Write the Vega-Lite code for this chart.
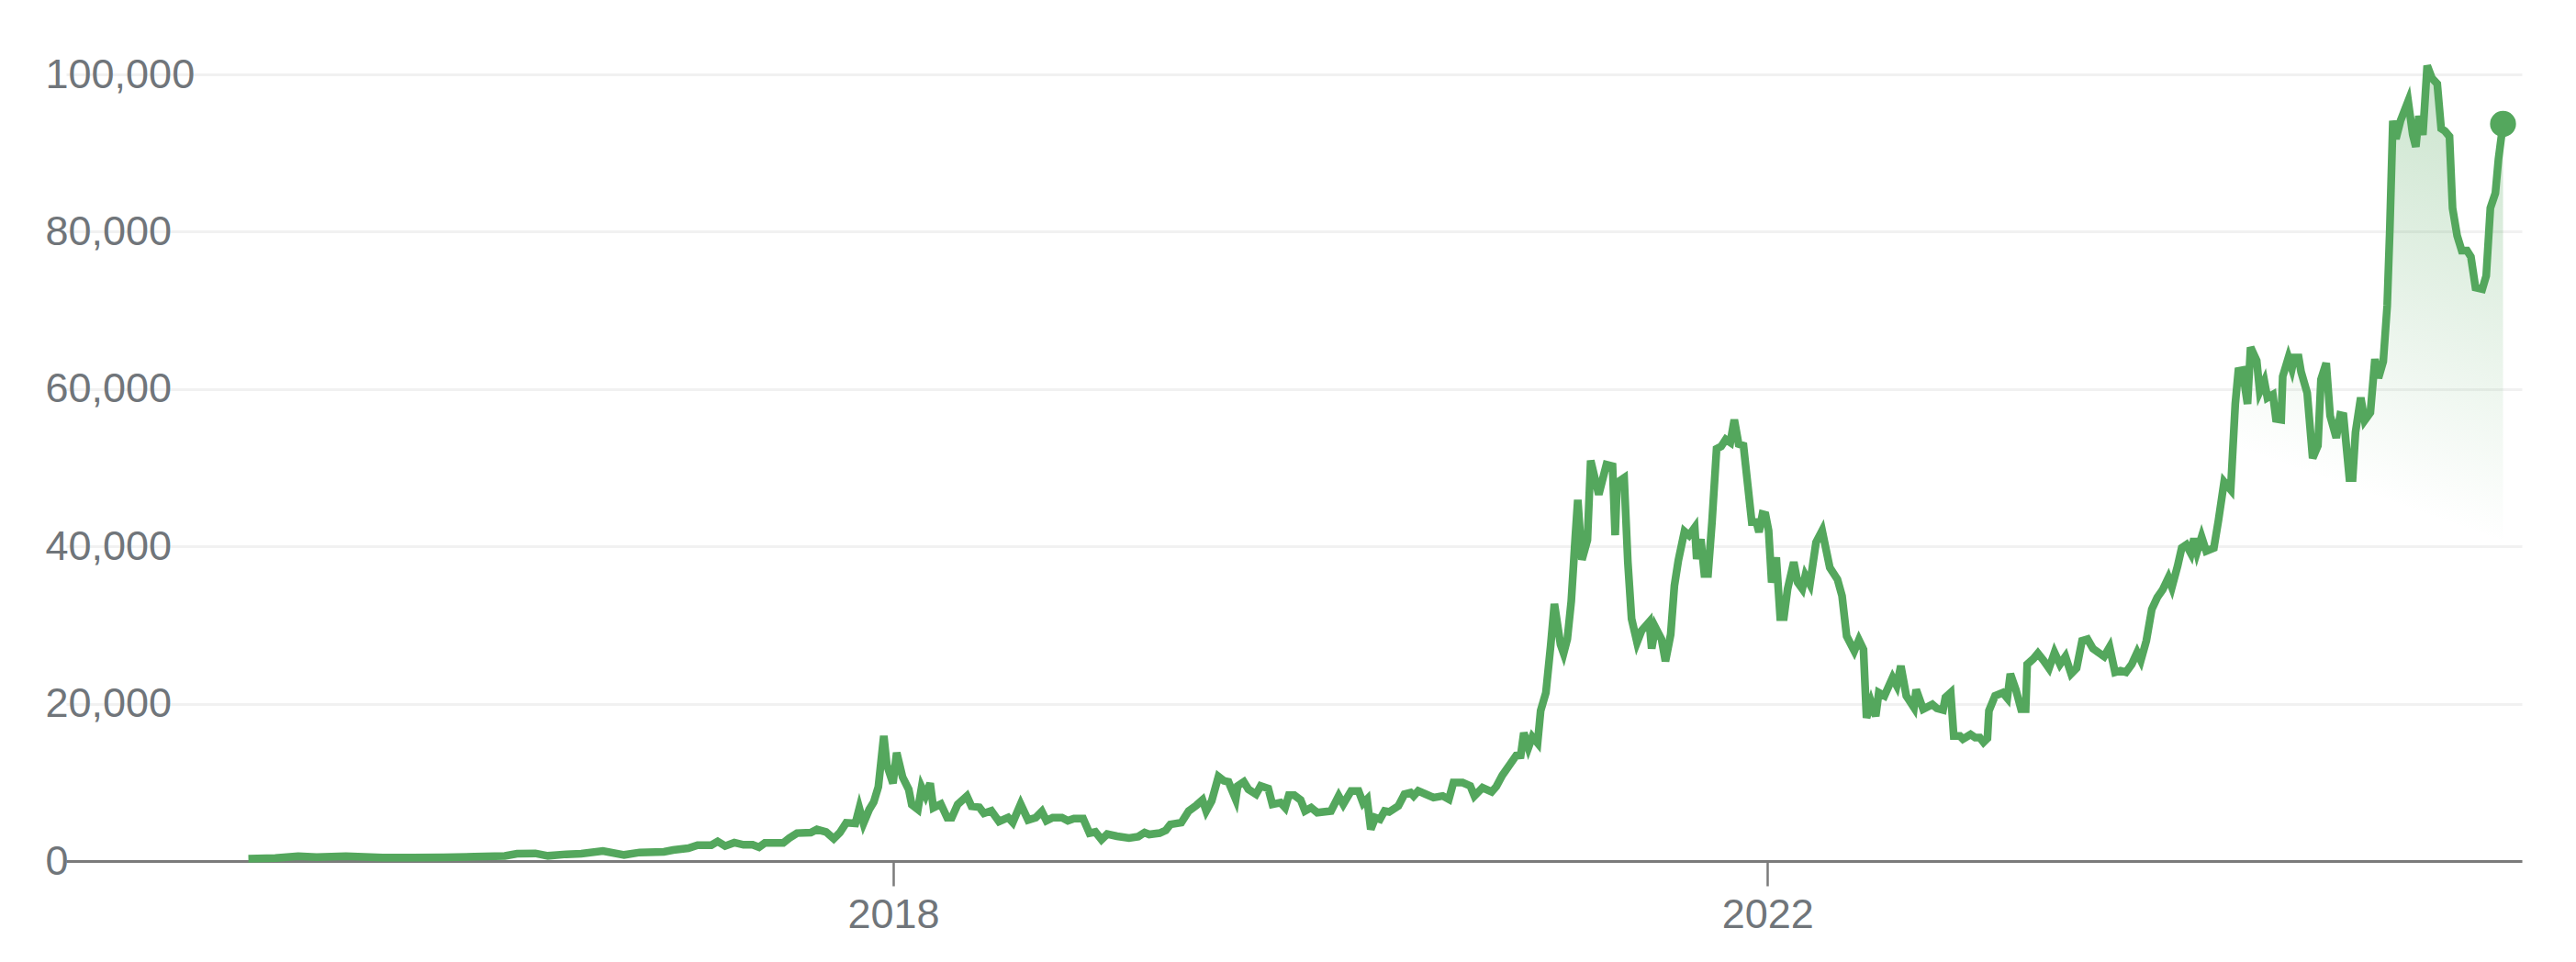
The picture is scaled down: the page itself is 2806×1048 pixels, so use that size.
{
  "$schema": "https://vega.github.io/schema/vega-lite/v6.json",
  "width": 2675,
  "height": 857,
  "autosize": {"type": "none"},
  "padding": {"left": 72, "top": 81, "right": 59, "bottom": 110},
  "background": "white",
  "config": {
    "font": "Arial, Liberation Sans, sans-serif",
    "view": {"stroke": null}
  },
  "data": {
    "values": [
      {"year": 2015.050, "price": 300}, {"year": 2015.173, "price": 380}, {"year": 2015.278, "price": 600},
      {"year": 2015.362, "price": 500}, {"year": 2015.496, "price": 600}, {"year": 2015.664, "price": 450},
      {"year": 2015.803, "price": 450}, {"year": 2015.943, "price": 480}, {"year": 2016.084, "price": 540},
      {"year": 2016.223, "price": 650}, {"year": 2016.279, "price": 930}, {"year": 2016.363, "price": 970},
      {"year": 2016.420, "price": 660}, {"year": 2016.504, "price": 860}, {"year": 2016.573, "price": 930},
      {"year": 2016.672, "price": 1280}, {"year": 2016.769, "price": 780}, {"year": 2016.840, "price": 1090},
      {"year": 2016.951, "price": 1170}, {"year": 2016.993, "price": 1400}, {"year": 2017.063, "price": 1630},
      {"year": 2017.105, "price": 2020}, {"year": 2017.168, "price": 2020}, {"year": 2017.197, "price": 2490},
      {"year": 2017.231, "price": 1910}, {"year": 2017.273, "price": 2340}, {"year": 2017.315, "price": 2060},
      {"year": 2017.357, "price": 2060}, {"year": 2017.386, "price": 1750}, {"year": 2017.413, "price": 2300},
      {"year": 2017.497, "price": 2300}, {"year": 2017.525, "price": 2920}, {"year": 2017.560, "price": 3550},
      {"year": 2017.623, "price": 3620}, {"year": 2017.651, "price": 4010}, {"year": 2017.693, "price": 3700},
      {"year": 2017.728, "price": 2840}, {"year": 2017.756, "price": 3620}, {"year": 2017.785, "price": 4860},
      {"year": 2017.827, "price": 4790}, {"year": 2017.845, "price": 6730}, {"year": 2017.864, "price": 4790},
      {"year": 2017.890, "price": 6530}, {"year": 2017.911, "price": 7500}, {"year": 2017.932, "price": 9440},
      {"year": 2017.957, "price": 15900}, {"year": 2017.971, "price": 12200}, {"year": 2017.999, "price": 9880},
      {"year": 2018.016, "price": 13770}, {"year": 2018.043, "price": 10660}, {"year": 2018.071, "price": 9100},
      {"year": 2018.085, "price": 7170}, {"year": 2018.113, "price": 6570}, {"year": 2018.130, "price": 9400},
      {"year": 2018.148, "price": 8320}, {"year": 2018.169, "price": 9880}, {"year": 2018.184, "price": 6770},
      {"year": 2018.218, "price": 7240}, {"year": 2018.247, "price": 5520}, {"year": 2018.268, "price": 5520},
      {"year": 2018.295, "price": 7200}, {"year": 2018.337, "price": 8250}, {"year": 2018.358, "price": 6960},
      {"year": 2018.394, "price": 6840}, {"year": 2018.415, "price": 6070}, {"year": 2018.449, "price": 6380},
      {"year": 2018.484, "price": 5020}, {"year": 2018.526, "price": 5520}, {"year": 2018.547, "price": 4900},
      {"year": 2018.583, "price": 7240}, {"year": 2018.617, "price": 5210}, {"year": 2018.652, "price": 5520},
      {"year": 2018.680, "price": 6300}, {"year": 2018.701, "price": 5130}, {"year": 2018.730, "price": 5520},
      {"year": 2018.772, "price": 5520}, {"year": 2018.799, "price": 5130}, {"year": 2018.827, "price": 5400},
      {"year": 2018.869, "price": 5400}, {"year": 2018.898, "price": 3550}, {"year": 2018.925, "price": 3700},
      {"year": 2018.953, "price": 2720}, {"year": 2018.979, "price": 3420}, {"year": 2019.024, "price": 3150},
      {"year": 2019.079, "price": 2920}, {"year": 2019.121, "price": 3110}, {"year": 2019.150, "price": 3620},
      {"year": 2019.171, "price": 3380}, {"year": 2019.219, "price": 3550}, {"year": 2019.247, "price": 3900},
      {"year": 2019.268, "price": 4660}, {"year": 2019.318, "price": 4880}, {"year": 2019.352, "price": 6360},
      {"year": 2019.387, "price": 7080}, {"year": 2019.415, "price": 7760}, {"year": 2019.432, "price": 6360},
      {"year": 2019.457, "price": 7640}, {"year": 2019.488, "price": 10730}, {"year": 2019.513, "price": 10190},
      {"year": 2019.534, "price": 10060}, {"year": 2019.567, "price": 7850}, {"year": 2019.576, "price": 9550},
      {"year": 2019.604, "price": 10060}, {"year": 2019.625, "price": 9120}, {"year": 2019.660, "price": 8490},
      {"year": 2019.681, "price": 9550}, {"year": 2019.716, "price": 9210}, {"year": 2019.735, "price": 7210},
      {"year": 2019.772, "price": 7420}, {"year": 2019.793, "price": 6790}, {"year": 2019.810, "price": 8360},
      {"year": 2019.835, "price": 8360}, {"year": 2019.864, "price": 7760}, {"year": 2019.884, "price": 6360},
      {"year": 2019.912, "price": 6790}, {"year": 2019.940, "price": 6150}, {"year": 2020.003, "price": 6360},
      {"year": 2020.038, "price": 8270}, {"year": 2020.059, "price": 7210}, {"year": 2020.095, "price": 8910},
      {"year": 2020.129, "price": 8910}, {"year": 2020.150, "price": 7340}, {"year": 2020.168, "price": 7850},
      {"year": 2020.185, "price": 4040}, {"year": 2020.206, "price": 5520}, {"year": 2020.227, "price": 5310},
      {"year": 2020.248, "price": 6360}, {"year": 2020.269, "price": 6240}, {"year": 2020.311, "price": 7000},
      {"year": 2020.339, "price": 8490}, {"year": 2020.367, "price": 8700}, {"year": 2020.381, "price": 8270},
      {"year": 2020.402, "price": 8910}, {"year": 2020.437, "price": 8490}, {"year": 2020.472, "price": 8060},
      {"year": 2020.514, "price": 8270}, {"year": 2020.542, "price": 7850}, {"year": 2020.563, "price": 9970},
      {"year": 2020.605, "price": 9970}, {"year": 2020.640, "price": 9550}, {"year": 2020.659, "price": 8270},
      {"year": 2020.696, "price": 9330}, {"year": 2020.738, "price": 8790}, {"year": 2020.759, "price": 9460},
      {"year": 2020.787, "price": 10900}, {"year": 2020.822, "price": 12300}, {"year": 2020.850, "price": 13400},
      {"year": 2020.871, "price": 13450}, {"year": 2020.885, "price": 16300}, {"year": 2020.906, "price": 14400},
      {"year": 2020.924, "price": 15800}, {"year": 2020.948, "price": 15000}, {"year": 2020.962, "price": 19100},
      {"year": 2020.986, "price": 21400}, {"year": 2021.008, "price": 27400}, {"year": 2021.025, "price": 32700},
      {"year": 2021.053, "price": 27500}, {"year": 2021.067, "price": 26400}, {"year": 2021.084, "price": 28200},
      {"year": 2021.102, "price": 33000}, {"year": 2021.121, "price": 41400}, {"year": 2021.132, "price": 45900},
      {"year": 2021.151, "price": 38300}, {"year": 2021.176, "price": 40800}, {"year": 2021.191, "price": 50900},
      {"year": 2021.228, "price": 46600}, {"year": 2021.263, "price": 50400}, {"year": 2021.291, "price": 50200},
      {"year": 2021.303, "price": 41400}, {"year": 2021.312, "price": 48100}, {"year": 2021.344, "price": 48700},
      {"year": 2021.361, "price": 38000}, {"year": 2021.378, "price": 30800}, {"year": 2021.403, "price": 27800},
      {"year": 2021.424, "price": 29300}, {"year": 2021.459, "price": 30400}, {"year": 2021.470, "price": 27000},
      {"year": 2021.487, "price": 29700}, {"year": 2021.515, "price": 28200}, {"year": 2021.533, "price": 25400},
      {"year": 2021.557, "price": 28800}, {"year": 2021.574, "price": 35000}, {"year": 2021.592, "price": 38200},
      {"year": 2021.620, "price": 41900}, {"year": 2021.641, "price": 41400}, {"year": 2021.667, "price": 42400},
      {"year": 2021.676, "price": 38400}, {"year": 2021.695, "price": 40900}, {"year": 2021.711, "price": 36500},
      {"year": 2021.728, "price": 36500}, {"year": 2021.746, "price": 43100}, {"year": 2021.767, "price": 52400},
      {"year": 2021.788, "price": 52700}, {"year": 2021.809, "price": 53600}, {"year": 2021.830, "price": 53200},
      {"year": 2021.848, "price": 56100}, {"year": 2021.868, "price": 53000}, {"year": 2021.890, "price": 52800},
      {"year": 2021.910, "price": 47700}, {"year": 2021.928, "price": 43100}, {"year": 2021.949, "price": 43100},
      {"year": 2021.961, "price": 41800}, {"year": 2021.977, "price": 44100}, {"year": 2021.991, "price": 44000},
      {"year": 2022.005, "price": 42000}, {"year": 2022.019, "price": 35400}, {"year": 2022.040, "price": 38600},
      {"year": 2022.058, "price": 31000}, {"year": 2022.075, "price": 31000}, {"year": 2022.092, "price": 34600},
      {"year": 2022.120, "price": 38000}, {"year": 2022.138, "price": 35400}, {"year": 2022.159, "price": 34600},
      {"year": 2022.173, "price": 36300}, {"year": 2022.194, "price": 35200}, {"year": 2022.222, "price": 40500},
      {"year": 2022.250, "price": 42000}, {"year": 2022.285, "price": 37300}, {"year": 2022.320, "price": 35800},
      {"year": 2022.341, "price": 33700}, {"year": 2022.362, "price": 28600}, {"year": 2022.397, "price": 26700},
      {"year": 2022.418, "price": 28100}, {"year": 2022.439, "price": 26900}, {"year": 2022.453, "price": 18200},
      {"year": 2022.474, "price": 20200}, {"year": 2022.495, "price": 18400}, {"year": 2022.509, "price": 21400},
      {"year": 2022.535, "price": 21000}, {"year": 2022.572, "price": 23300}, {"year": 2022.591, "price": 22300},
      {"year": 2022.610, "price": 24800}, {"year": 2022.635, "price": 21000}, {"year": 2022.670, "price": 19500},
      {"year": 2022.680, "price": 21800}, {"year": 2022.712, "price": 19300}, {"year": 2022.754, "price": 19900},
      {"year": 2022.775, "price": 19400}, {"year": 2022.803, "price": 19200}, {"year": 2022.814, "price": 20800},
      {"year": 2022.838, "price": 21400}, {"year": 2022.852, "price": 15900}, {"year": 2022.880, "price": 15900},
      {"year": 2022.894, "price": 15500}, {"year": 2022.929, "price": 16100}, {"year": 2022.950, "price": 15700},
      {"year": 2022.971, "price": 15700}, {"year": 2022.988, "price": 15100}, {"year": 2023.006, "price": 15600},
      {"year": 2023.013, "price": 19100}, {"year": 2023.041, "price": 21000}, {"year": 2023.076, "price": 21400},
      {"year": 2023.097, "price": 20700}, {"year": 2023.111, "price": 23800}, {"year": 2023.136, "price": 21800},
      {"year": 2023.160, "price": 19300}, {"year": 2023.181, "price": 19300}, {"year": 2023.188, "price": 25000},
      {"year": 2023.216, "price": 25700}, {"year": 2023.237, "price": 26400}, {"year": 2023.263, "price": 25500},
      {"year": 2023.288, "price": 24500}, {"year": 2023.313, "price": 26500}, {"year": 2023.338, "price": 25000},
      {"year": 2023.363, "price": 26000}, {"year": 2023.389, "price": 23800}, {"year": 2023.414, "price": 24500},
      {"year": 2023.439, "price": 28000}, {"year": 2023.464, "price": 28200}, {"year": 2023.489, "price": 27000},
      {"year": 2023.514, "price": 26500}, {"year": 2023.540, "price": 26000}, {"year": 2023.565, "price": 27200},
      {"year": 2023.590, "price": 24000}, {"year": 2023.615, "price": 24200}, {"year": 2023.640, "price": 24000},
      {"year": 2023.666, "price": 25000}, {"year": 2023.691, "price": 26500}, {"year": 2023.708, "price": 25500},
      {"year": 2023.733, "price": 28000}, {"year": 2023.758, "price": 32000}, {"year": 2023.783, "price": 33500},
      {"year": 2023.808, "price": 34500}, {"year": 2023.834, "price": 36000}, {"year": 2023.850, "price": 34800},
      {"year": 2023.876, "price": 37500}, {"year": 2023.895, "price": 39800}, {"year": 2023.916, "price": 40200},
      {"year": 2023.937, "price": 39100}, {"year": 2023.951, "price": 41000}, {"year": 2023.965, "price": 39300},
      {"year": 2023.986, "price": 41200}, {"year": 2024.007, "price": 39400}, {"year": 2024.042, "price": 39800},
      {"year": 2024.063, "price": 43300}, {"year": 2024.089, "price": 48200}, {"year": 2024.119, "price": 47200},
      {"year": 2024.140, "price": 58100}, {"year": 2024.154, "price": 62300}, {"year": 2024.173, "price": 62400},
      {"year": 2024.196, "price": 58100}, {"year": 2024.210, "price": 65300}, {"year": 2024.238, "price": 63600},
      {"year": 2024.252, "price": 59700}, {"year": 2024.273, "price": 61000}, {"year": 2024.287, "price": 58900},
      {"year": 2024.312, "price": 59300}, {"year": 2024.326, "price": 56200}, {"year": 2024.350, "price": 56100},
      {"year": 2024.357, "price": 61600}, {"year": 2024.383, "price": 64000}, {"year": 2024.399, "price": 62600},
      {"year": 2024.410, "price": 64000}, {"year": 2024.430, "price": 64000}, {"year": 2024.441, "price": 62200},
      {"year": 2024.469, "price": 59500}, {"year": 2024.494, "price": 51200}, {"year": 2024.518, "price": 52800},
      {"year": 2024.532, "price": 61200}, {"year": 2024.556, "price": 63300}, {"year": 2024.574, "price": 56600},
      {"year": 2024.602, "price": 53800}, {"year": 2024.620, "price": 56700}, {"year": 2024.635, "price": 56600},
      {"year": 2024.662, "price": 48700}, {"year": 2024.677, "price": 48700}, {"year": 2024.690, "price": 54500},
      {"year": 2024.714, "price": 58900}, {"year": 2024.732, "price": 56000}, {"year": 2024.758, "price": 57000},
      {"year": 2024.779, "price": 63800}, {"year": 2024.795, "price": 61400}, {"year": 2024.817, "price": 63500},
      {"year": 2024.835, "price": 70600}, {"year": 2024.847, "price": 80300}, {"year": 2024.861, "price": 94100},
      {"year": 2024.875, "price": 91800}, {"year": 2024.896, "price": 94100}, {"year": 2024.931, "price": 96600},
      {"year": 2024.952, "price": 92300}, {"year": 2024.966, "price": 90800}, {"year": 2024.980, "price": 94700},
      {"year": 2024.998, "price": 92300}, {"year": 2025.018, "price": 101100}, {"year": 2025.040, "price": 99500},
      {"year": 2025.064, "price": 98800}, {"year": 2025.082, "price": 93100}, {"year": 2025.099, "price": 92800},
      {"year": 2025.120, "price": 92100}, {"year": 2025.134, "price": 83000}, {"year": 2025.155, "price": 79500},
      {"year": 2025.176, "price": 77600}, {"year": 2025.200, "price": 77600}, {"year": 2025.218, "price": 76800},
      {"year": 2025.239, "price": 72900}, {"year": 2025.270, "price": 72700}, {"year": 2025.288, "price": 74400},
      {"year": 2025.307, "price": 83000}, {"year": 2025.330, "price": 84900}, {"year": 2025.344, "price": 89200},
      {"year": 2025.365, "price": 93700}
    ]
  },
  "encoding": {
    "x": {
      "field": "year",
      "type": "quantitative",
      "scale": {"domain": [2014.216, 2025.451], "nice": false, "zero": false},
      "axis": {
        "values": [2018, 2022],
        "format": "d",
        "title": null,
        "grid": false,
        "domainColor": "#7b7b7b",
        "domainWidth": 3,
        "tickColor": "#7b7b7b",
        "tickWidth": 2.5,
        "tickSize": 27,
        "labelPadding": 9,
        "labelFontSize": 45,
        "labelColor": "#70757a",
        "labelFont": "Arial, Liberation Sans, sans-serif"
      }
    },
    "y": {
      "field": "price",
      "type": "quantitative",
      "scale": {"domain": [0, 100000], "nice": false, "zero": true},
      "axis": {
        "values": [0, 20000, 40000, 60000, 80000, 100000],
        "format": ",d",
        "title": null,
        "domain": false,
        "ticks": false,
        "tickSize": 0,
        "labelAlign": "left",
        "labelBaseline": "middle",
        "labelPadding": 23,
        "labelFontSize": 45,
        "labelColor": "#70757a",
        "labelFont": "Arial, Liberation Sans, sans-serif",
        "gridColor": "#f1f1f1",
        "gridWidth": 3
      }
    }
  },
  "layer": [
    {
      "mark": {
        "type": "area",
        "interpolate": "linear",
        "fill": {
          "gradient": "linear",
          "x1": 1, "y1": 0, "x2": 0, "y2": 1,
          "stops": [
            {"offset": 0, "color": "rgba(84,167,93,0.32)"},
            {"offset": 0.3, "color": "rgba(84,167,93,0)"}
          ]
        }
      }
    },
    {
      "mark": {
        "type": "line",
        "color": "#54a75d",
        "strokeWidth": 8.5,
        "strokeJoin": "miter",
        "strokeMiterLimit": 4
      }
    },
    {
      "transform": [
        {"joinaggregate": [{"op": "max", "field": "year", "as": "lastYear"}]},
        {"filter": "datum.year === datum.lastYear"}
      ],
      "mark": {"type": "point", "filled": true, "opacity": 1, "color": "#54a75d", "size": 800}
    }
  ]
}
